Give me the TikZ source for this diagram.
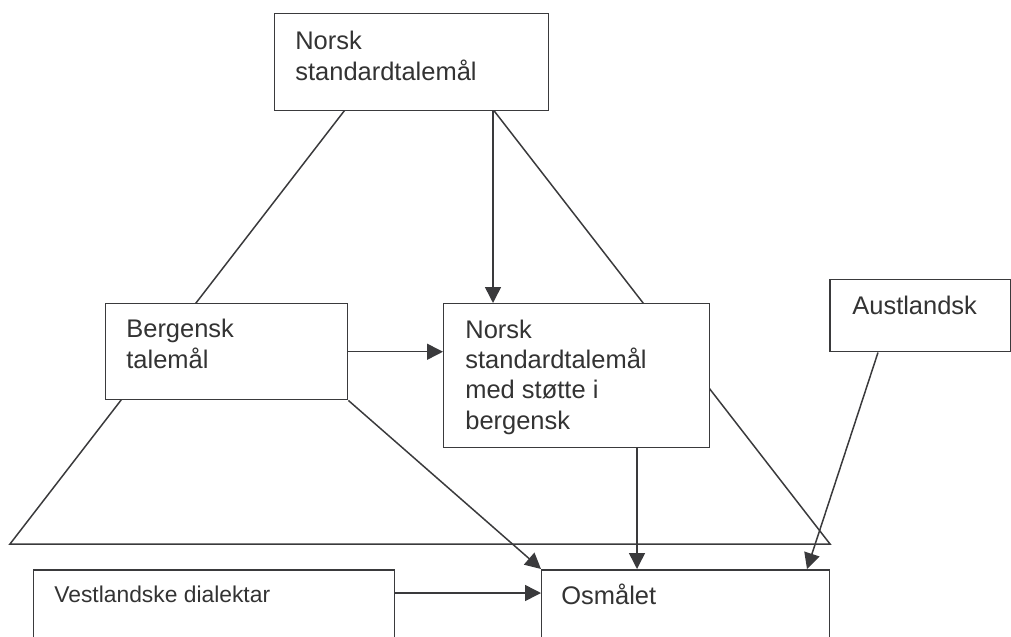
\documentclass[tikz,border=0pt]{standalone}
\usepackage{fontspec}
\setmainfont{Liberation Sans}
\usepackage{xcolor}
\usepackage{tikz}
\usetikzlibrary{arrows.meta,positioning,calc}
\definecolor{linecol}{HTML}{3A3A3C}
\definecolor{textcol}{HTML}{333333}

\begin{document}
\begin{tikzpicture}[x=0.02cm,y=-0.02cm,
  box/.style={draw=linecol,fill=white,line width=0.85pt,inner sep=0pt,anchor=north west},
  lbl/.style={anchor=base west,align=left,inner sep=0pt,text=textcol,font=\fontsize{14.5}{17.2}\selectfont},
  arr/.style={draw=linecol,line width=0.85pt,-{Triangle[length=9pt,width=9pt]}}]
  \useasboundingbox (0,0) rectangle (1011,636);
  \clip (0,0) rectangle (1011,636);
  % big triangle behind the boxes
  \coordinate (apex) at (419,14); \coordinate (bl) at (10,544); \coordinate (br) at (830,544);
  \draw[draw=linecol,line width=0.85pt] (apex) -- (bl) -- (br) -- cycle;
  % boxes
  \node[box,minimum width=5.48cm,minimum height=1.94cm] (nst) at (274,13) {};
  \node[box,minimum width=4.84cm,minimum height=1.92cm] (berg) at (105,303) {};
  \node[box,minimum width=5.32cm,minimum height=2.88cm] (nstb) at (443,303) {};
  \node[box,minimum width=3.62cm,minimum height=1.44cm] (aust) at (829,279) {};
  \node[box,minimum width=7.22cm,minimum height=1.82cm] (vest) at (33,569) {};
  \node[box,minimum width=5.76cm,minimum height=1.82cm] (osm) at (541,569) {};
  % texts (base = last line)
  \node[lbl] (nst-t) at ($(nst.north west)+(21,67)$) {Norsk\\standardtalemål};
  \node[lbl] (berg-t) at ($(berg.north west)+(21,65)$) {Bergensk\\talemål};
  \node[lbl] (nstb-t) at ($(nstb.north west)+(22,126)$) {Norsk\\standardtalemål\\med støtte i\\bergensk};
  \node[lbl] (aust-t) at ($(aust.north west)+(23,35)$) {Austlandsk};
  \node[lbl,font=\fontsize{13}{15}\selectfont] (vest-t) at ($(vest.north west)+(21,33)$) {Vestlandske dialektar};
  \node[lbl] (osm-t) at ($(osm.north west)+(20,35)$) {Osmålet};
  % arrows
  \draw[arr] ($(nst.south west)+(219,0)$) -- ($(nstb.north west)+(50,0)$);
  \draw[arr] (berg.east) -- (berg.east -| nstb.west);
  \draw[arr] (berg.south east) -- (osm.north west);
  \draw[arr] ($(nstb.south west)+(194,0)$) -- ($(osm.north west)+(96,0)$);
  \draw[arr] ($(aust.south west)+(49,0)$) -- ($(osm.north west)+(266,0)$);
  \draw[arr] ($(vest.north east)+(0,24)$) -- ($(osm.north west)+(0,24)$);
\end{tikzpicture}
\end{document}
